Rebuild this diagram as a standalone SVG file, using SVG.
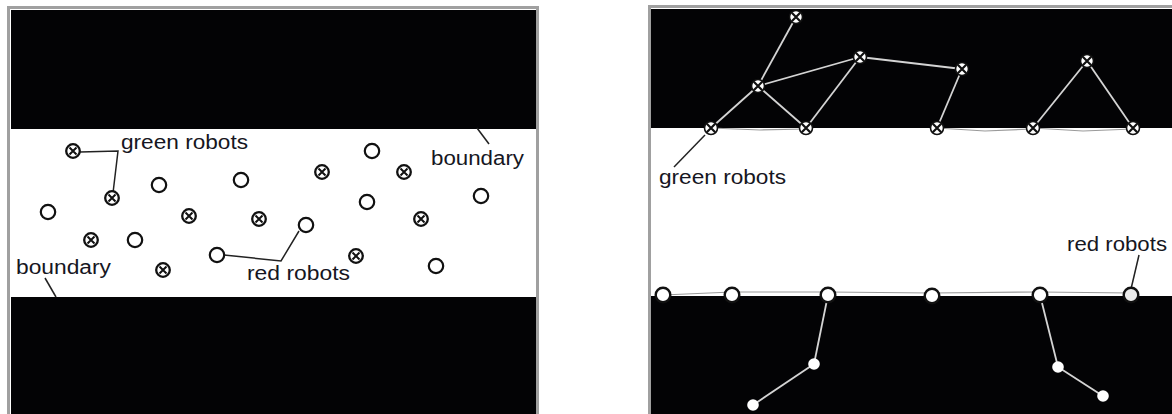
<svg xmlns="http://www.w3.org/2000/svg" xmlns:xlink="http://www.w3.org/1999/xlink" width="1172" height="414" viewBox="0 0 1172 414">
<style>
.frame{fill:#fff;stroke:#a0a0a0;stroke-width:3}
.wall{fill:#030305}
.lbl{font-family:"Liberation Sans",Arial,sans-serif;font-size:20px;fill:#161622}
.lead{stroke:#222;stroke-width:1.5;fill:none}
.link{stroke:#d4d4d4;stroke-width:1.8;fill:none}
.edge{stroke:#9a9a9a;stroke-width:1.2;fill:none}
</style>
<defs>
<g id="gL"><circle r="6.8" fill="#fff" stroke="#111" stroke-width="2.3"/><path d="M-3.5,-3.5L3.5,3.5M3.5,-3.5L-3.5,3.5" stroke="#111" stroke-width="2"/></g>
<g id="rL"><circle r="7.2" fill="#fff" stroke="#111" stroke-width="2.2"/></g>
<g id="gR"><circle r="6.5" fill="#fff" stroke="#111" stroke-width="1.6"/><path d="M-4.2,-4.2L4.2,4.2M4.2,-4.2L-4.2,4.2" stroke="#111" stroke-width="2.2"/></g>
<g id="rR"><circle r="7.3" fill="#fff" stroke="#111" stroke-width="2.4"/></g>
<g id="rS"><circle r="5.8" fill="#fff"/></g>
</defs>

<g id="left-panel">
<rect class="frame" x="8.5" y="7.5" width="529" height="420"/>
<rect class="wall" x="11" y="10" width="525" height="119"/>
<rect class="wall" x="11" y="297" width="525" height="120"/>
</g>
<g id="right-panel">
<rect class="frame" x="649.5" y="6.5" width="540" height="420"/>
<rect class="wall" x="651" y="9" width="530" height="119"/>
<rect class="wall" x="651" y="296" width="530" height="120"/>
</g>

<g id="connectors">
<polyline class="lead" points="80,152 118,151 113,193"/>
<polyline class="lead" points="224,255 281,261 299,231"/>
<line class="lead" x1="477" y1="128" x2="489" y2="144"/>
<line class="lead" x1="45" y1="278" x2="56" y2="297"/>
<line class="link" x1="796" y1="17" x2="758" y2="86"/>
<line class="link" x1="758" y1="86" x2="860" y2="57"/>
<line class="link" x1="758" y1="86" x2="711" y2="128"/>
<line class="link" x1="758" y1="86" x2="806" y2="128"/>
<line class="link" x1="860" y1="57" x2="806" y2="128"/>
<line class="link" x1="860" y1="57" x2="962" y2="69"/>
<line class="link" x1="962" y1="69" x2="937" y2="128"/>
<line class="link" x1="1087" y1="61" x2="1033" y2="128"/>
<line class="link" x1="1087" y1="61" x2="1133" y2="128"/>
<polyline class="edge" points="711,128 760,130 806,129"/>
<polyline class="edge" points="937,128 985,131 1033,129"/>
<polyline class="edge" points="1033,128 1083,131 1133,129"/>
<polyline class="edge" points="663,295 732,292 828,292 932,293 1040,292 1131,293"/>
<line class="link" x1="828" y1="295" x2="814" y2="364"/>
<line class="link" x1="814" y1="364" x2="753" y2="405"/>
<line class="link" x1="1040" y1="295" x2="1058" y2="367"/>
<line class="link" x1="1058" y1="367" x2="1103" y2="396"/>
<line class="lead" x1="705" y1="135" x2="674" y2="167"/>
<line class="lead" x1="1139" y1="255" x2="1131" y2="289"/>
</g>

<g id="left-nodes">
<g id="lg1"><use href="#gL" x="73" y="151"/></g>
<g id="lg2"><use href="#gL" x="112" y="198"/></g>
<g id="lg3"><use href="#gL" x="189" y="216"/></g>
<g id="lg4"><use href="#gL" x="259" y="219"/></g>
<g id="lg5"><use href="#gL" x="91" y="240"/></g>
<g id="lg6"><use href="#gL" x="163" y="270"/></g>
<g id="lg7"><use href="#gL" x="322" y="172"/></g>
<g id="lg8"><use href="#gL" x="404" y="172"/></g>
<g id="lg9"><use href="#gL" x="421" y="219"/></g>
<g id="lg10"><use href="#gL" x="356" y="256"/></g>
<g id="lr1"><use href="#rL" x="48" y="212"/></g>
<g id="lr2"><use href="#rL" x="159" y="185"/></g>
<g id="lr3"><use href="#rL" x="241" y="180"/></g>
<g id="lr4"><use href="#rL" x="135" y="240"/></g>
<g id="lr5"><use href="#rL" x="217" y="255"/></g>
<g id="lr6"><use href="#rL" x="372" y="151"/></g>
<g id="lr7"><use href="#rL" x="367" y="202"/></g>
<g id="lr8"><use href="#rL" x="481" y="196"/></g>
<g id="lr9"><use href="#rL" x="306" y="225"/></g>
<g id="lr10"><use href="#rL" x="436" y="266"/></g>
</g>

<g id="right-nodes">
<g id="rgA"><use href="#gR" x="796" y="17"/></g>
<g id="rgB"><use href="#gR" x="758" y="86"/></g>
<g id="rgC"><use href="#gR" x="860" y="57"/></g>
<g id="rgD"><use href="#gR" x="711" y="128"/></g>
<g id="rgE"><use href="#gR" x="806" y="128"/></g>
<g id="rgF"><use href="#gR" x="962" y="69"/></g>
<g id="rgG"><use href="#gR" x="937" y="128"/></g>
<g id="rgH"><use href="#gR" x="1033" y="128"/></g>
<g id="rgI"><use href="#gR" x="1087" y="61"/></g>
<g id="rgJ"><use href="#gR" x="1133" y="128"/></g>
<g id="rr1"><use href="#rR" x="663" y="295"/></g>
<g id="rr2"><use href="#rR" x="732" y="295"/></g>
<g id="rr3"><use href="#rR" x="828" y="295"/></g>
<g id="rr6"><use href="#rR" x="932" y="296"/></g>
<g id="rr7"><use href="#rR" x="1040" y="295"/></g>
<g id="rr8"><circle cx="1131" cy="295" r="7.3" fill="#ececec" stroke="#111" stroke-width="2.4"/></g>
<g id="rr4"><use href="#rS" x="814" y="364"/></g>
<g id="rr5"><use href="#rS" x="753" y="405"/></g>
<g id="rr9"><use href="#rS" x="1058" y="367"/></g>
<g id="rr10"><use href="#rS" x="1103" y="396"/></g>
</g>

<g id="labels">
<text class="lbl" x="121" y="149" textLength="127" lengthAdjust="spacingAndGlyphs">green robots</text>
<text class="lbl" x="431" y="165" textLength="93" lengthAdjust="spacingAndGlyphs">boundary</text>
<text class="lbl" x="16" y="274" textLength="95" lengthAdjust="spacingAndGlyphs">boundary</text>
<text class="lbl" x="247" y="280" textLength="103" lengthAdjust="spacingAndGlyphs">red robots</text>
<text class="lbl" x="659" y="184" textLength="127" lengthAdjust="spacingAndGlyphs">green robots</text>
<text class="lbl" x="1067" y="251" textLength="100" lengthAdjust="spacingAndGlyphs">red robots</text>
</g>
</svg>
